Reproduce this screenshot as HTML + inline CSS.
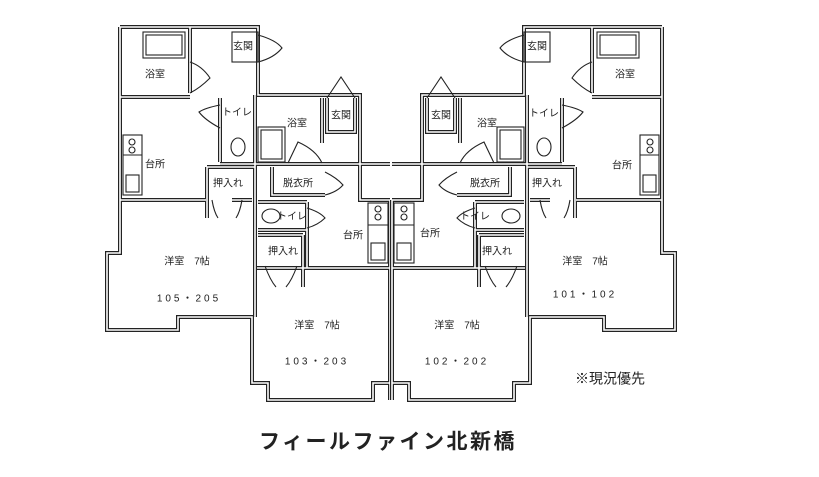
<!DOCTYPE html>
<html><head><meta charset="utf-8"><style>
html,body{margin:0;padding:0;background:#fff;}
svg{display:block}
text{font-family:"Liberation Sans","Noto Sans CJK JP",sans-serif;fill:#222;font-size:10px;text-anchor:middle;dominant-baseline:middle}
.w{fill:none;stroke:#222;stroke-width:4}
.wi{fill:none;stroke:#fff;stroke-width:1.6}
.t{fill:none;stroke:#222;stroke-width:1.1}
</style></head><body>
<svg width="819" height="477" viewBox="0 0 819 477">
<defs>
<g id="walls">
 <path d="M120 27 H258 V95 H360 V200 H390"/>
 <path d="M120 27 V253 H107 V330 H178 V317 H252 V383 H268 V400 H373 V383 H390"/>
 <path d="M120 200 H206 M232 200 H252"/>
 <path d="M190 27 V93 M120 97 H190"/>
 <path d="M255 95 V317"/>
 <path d="M220 98 V162 M220 164 H390"/>
 <path d="M207 167 V218 M255 167 H207"/>
 <path d="M322 98 V143"/>
 <path d="M272 167 V195 H325"/>
 <path d="M258 202 H307 M258 230 H307"/>
 <path d="M303 235 V287 M258 235 H303"/>
 <path d="M307 202 V268 H390 M257 268 H390"/>
 <path d="M390 200 V400"/>
 <path d="M327 98 V132 H355 V98"/>
</g>
<g id="thin">
 <rect x="143" y="32" width="42" height="26"/><rect x="146" y="35" width="36" height="20"/>
 <rect x="232" y="32" width="26" height="30"/>
 <path d="M258 35 Q276 40 282 48 Q274 58 258 62"/>
 <path d="M190 62 Q202 66 210 78 Q200 88 190 93"/>
 <rect x="123" y="135" width="19" height="60"/><path d="M123 155 H142"/>
 <circle cx="132" cy="142" r="3"/><circle cx="132" cy="150" r="3"/>
 <rect x="126" y="175" width="13" height="17"/>
 <path d="M220 105 Q205 108 199 112 Q205 120 220 128"/>
 <ellipse cx="238" cy="147" rx="7" ry="9"/>
 <path d="M212 200 Q214 212 218 218 M242 200 Q240 212 236 218"/>
 <rect x="258" y="127" width="27" height="35"/><rect x="261" y="130" width="21" height="29"/>
 <path d="M288 163 L298 142 Q316 150 322 163"/>
 <path d="M325 172 Q337 178 343 185 Q337 192 325 195"/>
 <ellipse cx="271" cy="216" rx="9" ry="7"/>
 <path d="M307 208 Q320 212 325 218 Q318 225 307 228"/>
 <path d="M327 98 L341 77 L355 98"/>
 <path d="M265 266 Q270 280 276 287 M297 266 Q292 280 286 287"/>
 <rect x="368" y="203" width="20" height="60"/><path d="M368 225 H388"/>
 <circle cx="378" cy="209" r="3"/><circle cx="378" cy="217" r="3"/>
 <rect x="371" y="243" width="14" height="17"/>
</g>
</defs>
<use href="#walls" class="w"/><use href="#walls" class="wi"/><use href="#thin" class="t"/>
<g transform="translate(782,0) scale(-1,1)">
<use href="#walls" class="w"/><use href="#walls" class="wi"/><use href="#thin" class="t"/>
</g>
<text x="155" y="75">浴室</text><text x="243" y="47">玄関</text><text x="237" y="113">トイレ</text>
<text x="155" y="165">台所</text><text x="228" y="184">押入れ</text><text x="297" y="124">浴室</text>
<text x="341" y="116">玄関</text><text x="298" y="184">脱衣所</text><text x="292" y="217">トイレ</text>
<text x="353" y="236">台所</text><text x="283" y="252">押入れ</text>
<text x="187" y="262">洋室　7帖</text><text x="189" y="299" letter-spacing="3">105・205</text>
<text x="317" y="326">洋室　7帖</text><text x="317" y="362" letter-spacing="3">103・203</text>
<text x="537" y="47">玄関</text><text x="625" y="75">浴室</text><text x="441" y="116">玄関</text>
<text x="487" y="124">浴室</text><text x="544" y="114">トイレ</text><text x="622" y="166">台所</text>
<text x="485" y="184">脱衣所</text><text x="547" y="184">押入れ</text><text x="475" y="217">トイレ</text>
<text x="430" y="234">台所</text><text x="497" y="252">押入れ</text>
<text x="585" y="262">洋室　7帖</text><text x="585" y="295" letter-spacing="3">101・102</text>
<text x="457" y="326">洋室　7帖</text><text x="457" y="362" letter-spacing="3">102・202</text>
<text x="610" y="380" style="font-size:14px">※現況優先</text>
<text x="388" y="443" style="font-size:21px;font-weight:bold" letter-spacing="2.5">フィールファイン北新橋</text>
</svg>
</body></html>
